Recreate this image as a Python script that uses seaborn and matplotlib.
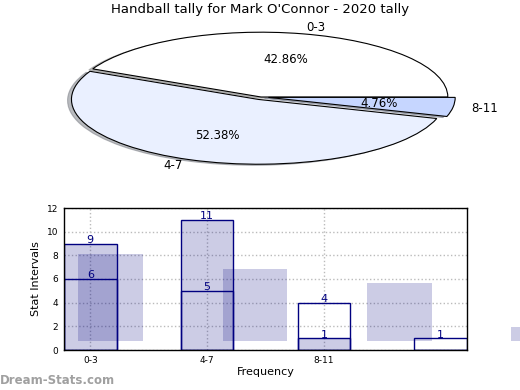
import pandas as pd
import seaborn as sns
import matplotlib
matplotlib.use('Agg')
import matplotlib.pyplot as plt

#%% data
pie_labels = ['0-3', '4-7', '8-11']
pie_values = [9, 11, 1]
pie_colors = ['#ffffff', '#eaf0ff', '#c6d6ff']

bar_cats = ['0-3', '4-7', '8-11', ' ']
filled_vals = [9, 11, 1, 0]
outline_vals = [6, 5, 4, 1]

# faded background bars (bottom / top)
shade_bottom = [0.8, 0.8, 0.8, 0.8]
shade_top = [8.1, 6.85, 5.66, 1.94]

#%% plot setup
sns.set_style("whitegrid", rc={'text.color': 'black', 'axes.labelcolor': 'black',
                               'xtick.color': 'black', 'ytick.color': 'black'})
navy = '#000080'
fig = plt.figure(figsize=(5.2, 3.9), dpi=100)

#%% pie
pax = fig.add_axes([27.5 / 520, 1 - 178 / 390, 467 / 520, 162 / 390])
wedges, texts, autotexts = pax.pie(pie_values, labels=pie_labels, colors=pie_colors,
                                   autopct='%.2f%%', explode=[0, 0.04, 0.04],
                                   shadow={'ox': -0.015, 'oy': -0.012, 'shade': 0.5},
                                   startangle=0, counterclock=True,
                                   wedgeprops={'edgecolor': 'black', 'linewidth': 0.8},
                                   textprops={'fontsize': 8.5})
pax.set_aspect('auto')
pax.set_xlim(-1.25, 1.25)
pax.set_ylim(-1.25, 1.25)
fig.text(0.5, 1 - 10 / 390, "Handball tally for Mark O'Connor - 2020 tally",
         ha='center', va='center', fontsize=9.5)

#%% bars
ax = fig.add_axes([64 / 520, 40 / 390, 403 / 520, 142 / 390])
df = pd.DataFrame({'cat': bar_cats, 'filled': filled_vals, 'outline': outline_vals})

sns.barplot(data=df, x='cat', y='filled', color=navy, alpha=0.2, width=0.45,
            saturation=1, linewidth=0, ax=ax)
sns.barplot(data=df, x='cat', y='filled', fill=False, color=navy, width=0.45,
            linewidth=1, ax=ax)
sns.barplot(data=df, x='cat', y='outline', fill=False, color=navy, width=0.45,
            linewidth=1, ax=ax)

step = 1.236
for i, (b, t) in enumerate(zip(shade_bottom, shade_top)):
    ax.bar(i * step - 0.103, t - b, bottom=b, width=0.555, align='edge',
           color=navy, alpha=0.2, linewidth=0, clip_on=False)

for i, (f, o) in enumerate(zip(filled_vals, outline_vals)):
    for v in (f, o):
        if v > 0:
            ax.text(i, v + 0.3, str(v), ha='center', va='center', color=navy, fontsize=8)

ax.set_xlim(-0.225, 3.225)
ax.set_ylim(0, 12)
ax.set_yticks(range(0, 13, 2))
ax.set_xticks([0, 1, 2], pie_labels)
ax.tick_params(labelsize=6.5, length=2, pad=2)
ax.grid(True, linestyle=':', color='#bbbbbb', linewidth=1)
for s in ax.spines.values():
    s.set_color('black')
    s.set_linewidth(1)
ax.set_ylabel('Stat Intervals', fontsize=8)
ax.set_xlabel('Frequency', fontsize=8, labelpad=2)

fig.text(0, 10 / 390, 'Dream-Stats.com', ha='left', va='center', fontsize=8.5,
         color='#a0a0a0', fontweight='bold')

fig.savefig('out.png', dpi=100)
